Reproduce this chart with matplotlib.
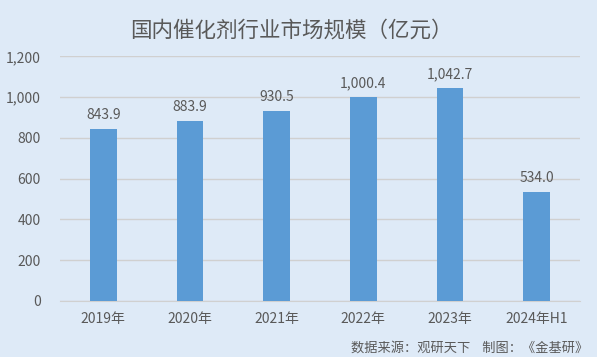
import matplotlib.pyplot as plt
from matplotlib.ticker import FuncFormatter

plt.rcParams['font.family'] = ['Noto Sans CJK SC', 'DejaVu Sans']

# Datos
categorias = ['2019年', '2020年', '2021年', '2022年', '2023年', '2024年H1']
valores = [843.9, 883.9, 930.5, 1000.4, 1042.7, 534.0]
etiquetas = ['843.9', '883.9', '930.5', '1,000.4', '1,042.7', '534.0']
titulo = '国内催化剂行业市场规模（亿元）'
fuente = '数据来源：观研天下    制图：《金基研》'

fondo = '#DEEAF7'
color_barra = '#5B9BD5'
color_texto = '#595959'

fig = plt.figure(figsize=(5.97, 3.57), dpi=100, facecolor=fondo)
ax = fig.add_axes([0.1005, 0.157, 0.871, 0.685], facecolor=fondo)

x = range(len(categorias))
ax.bar(x, valores, width=0.31, color=color_barra, zorder=3)
for xi, v, t in zip(x, valores, etiquetas):
    ax.text(xi, v + 35, t, ha='center', va='bottom', fontsize=10, color=color_texto)

ax.set_xlim(-0.5, len(categorias) - 0.5)
ax.set_ylim(0, 1200)
ax.set_yticks(range(0, 1201, 200))
ax.yaxis.set_major_formatter(FuncFormatter(lambda v, p: f'{int(v):,}'))
ax.set_xticks(list(x))
ax.set_xticklabels(categorias)
ax.tick_params(axis='both', length=0, labelsize=10, labelcolor=color_texto)
ax.tick_params(axis='y', pad=14)
ax.tick_params(axis='x', pad=8)

ax.grid(axis='y', color='#D0D0D0', linewidth=1, zorder=0)
for lado in ['top', 'right', 'left']:
    ax.spines[lado].set_visible(False)
ax.spines['bottom'].set_color('#D0D0D0')

fig.text(0.488, 0.915, titulo, ha='center', va='center', fontsize=15.5, color=color_texto)
fig.text(0.985, 0.025, fuente, ha='right', va='center', fontsize=9.5, color=color_texto)

fig.savefig('out.png', dpi=100, facecolor=fondo)
